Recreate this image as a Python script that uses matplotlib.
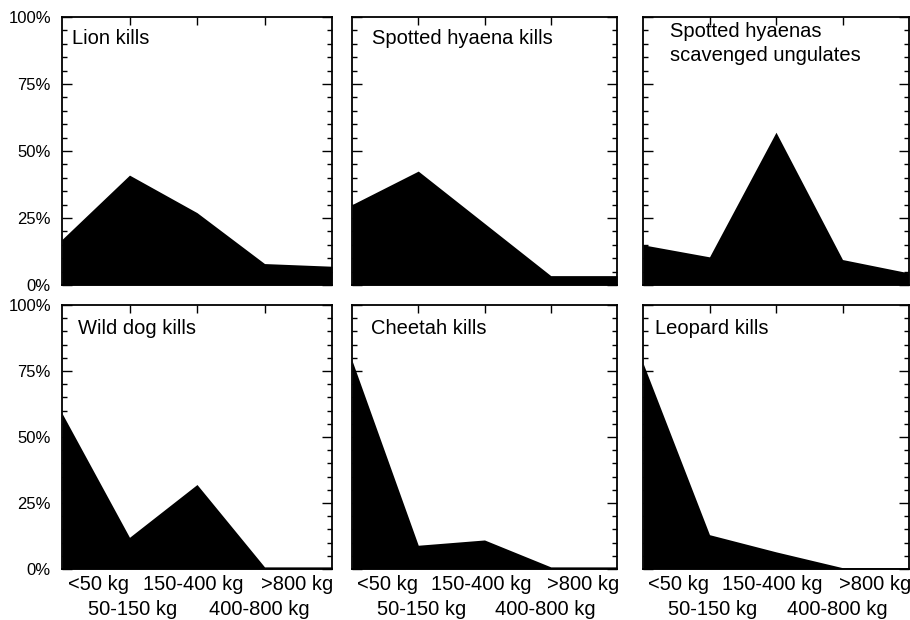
import numpy as np
import matplotlib
matplotlib.use('Agg')
import matplotlib.pyplot as plt
from matplotlib.ticker import MultipleLocator, FixedLocator, FuncFormatter, NullFormatter
import matplotlib.transforms as mtransforms

plt.rcParams['font.family'] = ['Liberation Sans', 'DejaVu Sans']

CATEGORIES = ['<50 kg', '50-150 kg', '150-400 kg', '400-800 kg', '>800 kg']
TITLES = ['Lion kills', 'Spotted hyaena kills', 'Spotted hyaenas\nscavenged ungulates',
          'Wild dog kills', 'Cheetah kills', 'Leopard kills']
Y_TICKS = [0, 25, 50, 75, 100]

# percent of kills per prey size class
lion = [17, 41, 27, 8, 7]
hyaena_kills = [30, 42.5, 23, 3.5, 3.5]
hyaena_scavenged = [15, 10.5, 57, 9.5, 4.5]
wild_dog = [59, 12, 32, 0.8, 0.8]
cheetah = [79, 9, 11, 0.8, 0.8]
leopard = [78, 13, 6.5, 0.5, 0.5]
SERIES = [lion, hyaena_kills, hyaena_scavenged, wild_dog, cheetah, leopard]

# label rows under the bottom panels
ROW1 = [0, 2, 4]
ROW2 = [1, 3]
ROW1_X = [0.54, 1.95, 3.49]
ROW2_X = [1.05, 2.92]

fig = plt.figure(figsize=(9.1, 6.2), dpi=100)
W, H = 910, 620
lefts = [62, 352, 643]
widths = [270, 265, 266]
tops = [17, 305]
heights = [268, 264]
title_off = [(10, 12), (20, 12), (27, 5), (16, 14), (19, 14), (12, 14)]

x = np.arange(len(CATEGORIES))
for ii in range(6):
    r, c = divmod(ii, 3)
    ax = fig.add_axes([lefts[c] / W, 1 - (tops[r] + heights[r]) / H,
                       widths[c] / W, heights[r] / H])
    ax.fill_between(x, SERIES[ii], 0, color='black', linewidth=0)
    ax.set_xlim(0, 4)
    ax.set_ylim(0, 100)
    for sp in ax.spines.values():
        sp.set_linewidth(1.3)

    ax.yaxis.set_major_locator(FixedLocator(Y_TICKS))
    ax.yaxis.set_minor_locator(MultipleLocator(5))
    ax.tick_params(axis='y', which='both', direction='in', left=True, right=True, width=1.0)
    ax.tick_params(axis='y', which='major', length=7, labelsize=12, pad=8)
    ax.tick_params(axis='y', which='minor', length=3.5)
    if c == 0:
        ax.yaxis.set_major_formatter(FuncFormatter(lambda v, p: '%d%%' % v))
    else:
        ax.yaxis.set_major_formatter(NullFormatter())

    ax.xaxis.set_major_locator(FixedLocator([1, 2, 3]))
    ax.tick_params(axis='x', direction='in', top=True, bottom=False, labelbottom=False,
                   length=6, width=1.0)

    dx, dy = title_off[ii]
    off = mtransforms.offset_copy(ax.transAxes, fig=fig, x=dx, y=-dy, units='dots')
    ax.text(0, 1, TITLES[ii], transform=off, ha='left', va='top', fontsize=14.5,
            linespacing=1.35)

    if r == 1:
        trans = mtransforms.blended_transform_factory(ax.transData, ax.transAxes)
        for k, xp in zip(ROW1, ROW1_X):
            ax.text(xp, -0.06, CATEGORIES[k], transform=trans, ha='center', va='center', fontsize=14.5)
        for k, xp in zip(ROW2, ROW2_X):
            ax.text(xp, -0.155, CATEGORIES[k], transform=trans, ha='center', va='center', fontsize=14.5)

fig.savefig('out.png', dpi=100, facecolor='white')
